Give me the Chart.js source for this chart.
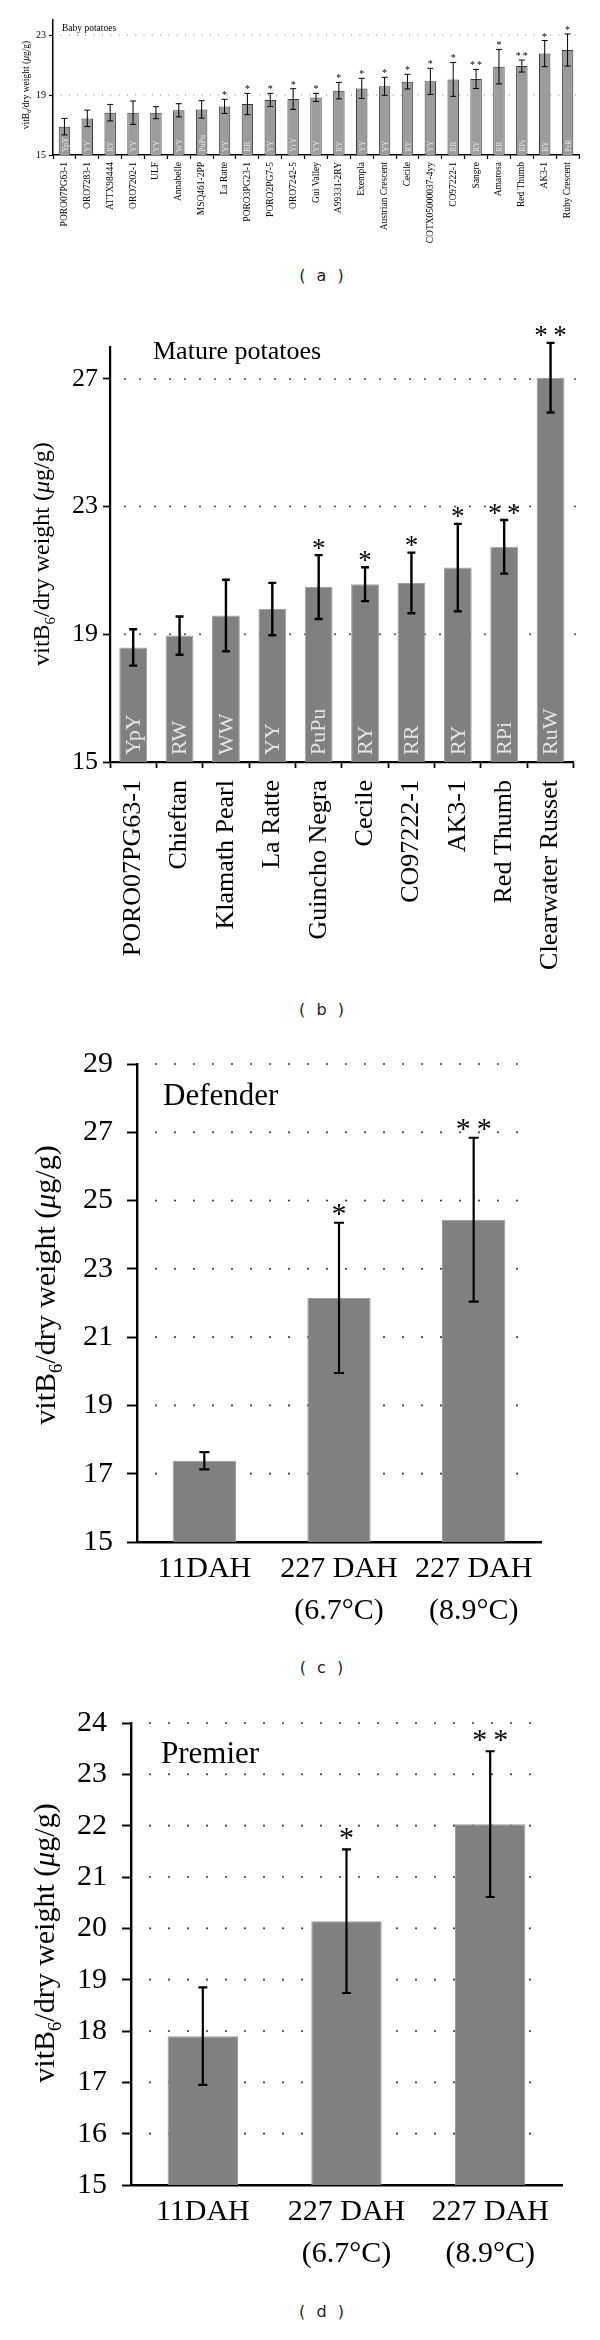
<!DOCTYPE html>
<html>
<head>
<meta charset="utf-8">
<script src="https://cdn.jsdelivr.net/npm/chart.js@4.4.0/dist/chart.umd.min.js"></script>
<style>
  body { margin: 0; background: #fff; width: 600px; height: 2340px; position: relative; overflow: hidden; }
  .panel { position: absolute; left: 0; width: 600px; }
  .tag { position: absolute; left: 23px; width: 600px; text-align: center; font: 16px "DejaVu Sans", sans-serif; color: #222; letter-spacing: 3px; }
</style>
</head>
<body>
<div class="panel" style="top:0px;height:265px"><canvas id="chartA" width="600" height="265"></canvas></div>
<div class="tag" style="top:266px">( a )</div>
<div class="panel" style="top:270px;height:730px"><canvas id="chartB" width="600" height="730"></canvas></div>
<div class="tag" style="top:1000px">( b )</div>
<div class="panel" style="top:1020px;height:620px"><canvas id="chartC" width="600" height="620"></canvas></div>
<div class="tag" style="top:1658px">( c )</div>
<div class="panel" style="top:1680px;height:615px"><canvas id="chartD" width="600" height="615"></canvas></div>
<div class="tag" style="top:2302px">( d )</div>

<script>
// (a) baby potatoes
const babyNames = ['PORO07PG63-1', 'ORO7283-1', 'ATTX98444', 'ORO7202-1', 'ULF', 'Annabelle', 'MSQ461-2PP',
  'La Ratte', 'PORO3PG23-1', 'PORO2PG7-5', 'ORO7242-5', 'Gui Valley', 'A99331-2RY', 'Exempla',
  'Austrian Crescent', 'Cecile', 'COTX05000037-4yy', 'CO97222-1', 'Sangre', 'Amarosa', 'Red Thumb',
  'AK3-1', 'Ruby Crescent'];
const babyValues = [16.89, 17.44, 17.82, 17.82, 17.82, 17.98, 18.04, 18.24, 18.4, 18.67, 18.73, 18.84,
  19.29, 19.44, 19.58, 19.89, 19.91, 20.04, 20.07, 20.89, 20.93, 21.76, 22.0];
const babyErrors = [0.55, 0.55, 0.55, 0.78, 0.4, 0.44, 0.58, 0.47, 0.71, 0.44, 0.69, 0.27, 0.55, 0.67,
  0.6, 0.49, 0.87, 1.13, 0.64, 1.15, 0.4, 0.87, 1.07];
const babyCodes = ['YpY', 'YY', 'RY', 'YY', 'YY', 'WY', 'PuPu', 'YY', 'RR', 'YY', 'YrY', 'YY', 'RY', 'YY',
  'YY', 'RY', 'YY', 'RR', 'RY', 'RR', 'RPi', 'RY', 'PrR'];
const babyStars = ['', '', '', '', '', '', '', '*', '*', '*', '*', '*', '*', '*', '*', '*', '*', '*', '**',
  '*', '**', '*', '*'];
const babyTicks = [15, 19, 23];

// (b) mature potatoes
const matureNames = ['PORO07PG63-1', 'Chieftan', 'Klamath Pearl', 'La Ratte', 'Guincho Negra', 'Cecile',
  'CO97222-1', 'AK3-1', 'Red Thumb', 'Clearwater Russet'];
const matureValues = [18.59, 18.96, 19.59, 19.79, 20.48, 20.57, 20.61, 21.09, 21.74, 27.04];
const matureErrors = [0.57, 0.6, 1.12, 0.82, 1.0, 0.53, 0.95, 1.37, 0.84, 1.09];
const matureCodes = ['YpY', 'RW', 'WW', 'YY', 'PuPu', 'RY', 'RR', 'RY', 'RPi', 'RuW'];
const matureStars = ['', '', '', '', '*', '*', '*', '*', '**', '**'];
const matureTicks = [15, 19, 23, 27];

// (c) Defender, (d) Premier
const storageLabels = ['11DAH', ['227 DAH', '(6.7°C)'], ['227 DAH', '(8.9°C)']];
const defenderValues = [17.38, 22.15, 24.44];
const defenderErrors = [0.25, 2.2, 2.4];
const defenderStars = ['', '*', '**'];
const defenderTicks = [15, 17, 19, 21, 23, 25, 27, 29];

const premierValues = [17.9, 20.14, 22.03];
const premierErrors = [0.95, 1.4, 1.42];
const premierStars = ['', '*', '**'];
const premierTicks = [15, 16, 17, 18, 19, 20, 21, 22, 23, 24];

const SERIF = '"Liberation Serif", "DejaVu Serif", serif';

function drawYTitle(ctx, cx, cy, size) {
  const parts = [
    ['vitB', size, 0, ''],
    ['6', size * 0.62, size * 0.24, ''],
    ['/dry weight (', size, 0, ''],
    ['\u03bc', size, 0, 'italic '],
    ['g/g)', size, 0, '']
  ];
  ctx.save();
  ctx.translate(cx, cy);
  ctx.rotate(-Math.PI / 2);
  ctx.fillStyle = '#000';
  ctx.textBaseline = 'alphabetic';
  ctx.textAlign = 'left';
  let total = 0;
  parts.forEach(p => {
    ctx.font = p[3] + p[1] + 'px ' + SERIF;
    total += ctx.measureText(p[0]).width;
  });
  let px = -total / 2;
  parts.forEach(p => {
    ctx.font = p[3] + p[1] + 'px ' + SERIF;
    ctx.fillText(p[0], px, size * 0.33 + p[2]);
    px += ctx.measureText(p[0]).width;
  });
  ctx.restore();
}

const extras = {
  id: 'extras',
  beforeDatasetsDraw(chart, args, o) {
    const { ctx, chartArea: a, scales: { y } } = chart;
    ctx.save();
    ctx.strokeStyle = o.dotColor;
    ctx.lineWidth = o.dotSize;
    ctx.lineCap = 'round';
    ctx.setLineDash([0, o.dotGap]);
    o.grid.forEach(v => {
      const py = y.getPixelForValue(v);
      ctx.beginPath();
      ctx.moveTo(a.left + o.dotStart, py);
      ctx.lineTo(o.dotEnd, py);
      ctx.stroke();
    });
    ctx.restore();
  },
  afterDatasetsDraw(chart, args, o) {
    const { ctx, chartArea: a, scales: { x, y } } = chart;
    const vals = chart.data.datasets[0].data;
    ctx.save();
    vals.forEach((v, i) => {
      const px = x.getPixelForValue(i);
      if (o.codes) {
        ctx.save();
        ctx.translate(px, a.bottom - o.codePad);
        ctx.rotate(-Math.PI / 2);
        ctx.font = o.codeSize + 'px ' + SERIF;
        ctx.fillStyle = '#e4e4e4';
        ctx.textAlign = 'left';
        ctx.textBaseline = 'middle';
        ctx.fillText(o.codes[i], 0, 1);
        ctx.restore();
      }
      const hi = y.getPixelForValue(v + o.errors[i]);
      const lo = y.getPixelForValue(v - o.errors[i]);
      ctx.strokeStyle = '#000';
      ctx.lineWidth = o.errWidth;
      ctx.beginPath();
      ctx.moveTo(px, hi); ctx.lineTo(px, lo);
      ctx.moveTo(px - o.cap / 2, hi); ctx.lineTo(px + o.cap / 2, hi);
      ctx.moveTo(px - o.cap / 2, lo); ctx.lineTo(px + o.cap / 2, lo);
      ctx.stroke();
      if (o.stars[i]) {
        // two stars are set a little apart, as in the figure
        const s = o.stars[i].split('').join('\u2009');
        ctx.fillStyle = '#000';
        ctx.font = o.starSize + 'px ' + SERIF;
        ctx.textAlign = 'center';
        ctx.textBaseline = 'alphabetic';
        ctx.fillText(s, px, hi - o.starGap + o.starSize * 0.5);
      }
    });
    ctx.restore();
  },
  afterDraw(chart, args, o) {
    const { ctx } = chart;
    drawYTitle(ctx, o.titleX, o.titleY, o.titleSize);
    ctx.save();
    ctx.fillStyle = '#000';
    ctx.font = o.nameSize + 'px ' + SERIF;
    ctx.textAlign = 'left';
    ctx.textBaseline = 'middle';
    ctx.fillText(o.name, o.nameX, o.nameY);
    ctx.restore();
  }
};

function makePanel(id, cfg) {
  const canvas = document.getElementById(id);
  const H = canvas.height;
  return new Chart(canvas, {
    type: 'bar',
    data: {
      labels: cfg.labels,
      datasets: [{
        data: cfg.values,
        backgroundColor: cfg.barColor,
        borderColor: cfg.barBorder,
        borderWidth: 1,
        borderSkipped: false,
        barPercentage: cfg.barPct,
        categoryPercentage: 1
      }]
    },
    options: {
      responsive: false,
      animation: false,
      events: [],
      layout: { autoPadding: false, padding: { top: cfg.top, right: cfg.right, left: 0, bottom: 0 } },
      plugins: {
        legend: { display: false },
        tooltip: { enabled: false },
        extras: cfg.extras
      },
      scales: {
        x: {
          grid: { display: cfg.xTicks, drawOnChartArea: false, drawTicks: true, tickLength: cfg.xTickLen,
            tickColor: '#000', tickWidth: cfg.axisWidth * 0.8, offset: true },
          border: { color: '#000', width: cfg.axisWidth },
          ticks: {
            autoSkip: false, color: '#000', padding: cfg.xPad,
            maxRotation: cfg.rot, minRotation: cfg.rot,
            font: { family: SERIF, size: cfg.xFont, lineHeight: 1.4 }
          },
          afterFit: s => { s.height = H - cfg.bottom; }
        },
        y: {
          min: cfg.min, max: cfg.max,
          afterBuildTicks: s => { s.ticks = cfg.ticks.map(v => ({ value: v })); },
          grid: { drawOnChartArea: false, drawTicks: true, tickLength: cfg.yTickLen,
            tickColor: '#000', tickWidth: cfg.axisWidth * 0.8 },
          border: { color: '#000', width: cfg.axisWidth },
          ticks: { color: '#000', padding: cfg.yPad, font: { family: SERIF, size: cfg.yFont } },
          afterFit: s => { s.width = cfg.left; }
        }
      }
    },
    plugins: [extras]
  });
}

makePanel('chartA', {
  labels: babyNames, values: babyValues, ticks: babyTicks, min: 15, max: 24,
  top: 20, right: 21, left: 53, bottom: 155,
  barColor: '#9c9c9c', barBorder: '#3a3a3a', barPct: 0.5,
  axisWidth: 1.5, xTicks: true, xTickLen: 4, yTickLen: 4, xPad: 3, yPad: 3,
  rot: 90, xFont: 9.5, yFont: 10,
  extras: {
    grid: [19, 23], dotColor: '#666', dotSize: 1.1, dotGap: 8.3, dotStart: 8, dotEnd: 576,
    errors: babyErrors, stars: babyStars, codes: babyCodes, codeSize: 8, codePad: 3,
    errWidth: 1, cap: 6, starSize: 10, starGap: 6,
    titleX: 26, titleY: 85, titleSize: 9.5,
    name: 'Baby potatoes', nameX: 62, nameY: 28, nameSize: 9.5
  }
});

makePanel('chartB', {
  labels: matureNames, values: matureValues, ticks: matureTicks, min: 15, max: 28,
  top: 77, right: 21, left: 110, bottom: 492,
  barColor: '#808080', barBorder: '#a2a2a2', barPct: 0.6,
  axisWidth: 2.2, xTicks: true, xTickLen: 6, yTickLen: 7, xPad: 12, yPad: 5,
  rot: 90, xFont: 26, yFont: 26,
  extras: {
    grid: [19, 23, 27], dotColor: '#444', dotSize: 2, dotGap: 15, dotStart: 15, dotEnd: 579,
    errors: matureErrors, stars: matureStars, codes: matureCodes, codeSize: 22, codePad: 7,
    errWidth: 2.4, cap: 8, starSize: 27, starGap: 12,
    titleX: 41, titleY: 284, titleSize: 24,
    name: 'Mature potatoes', nameX: 153, nameY: 82, nameSize: 26
  }
});

makePanel('chartC', {
  labels: storageLabels, values: defenderValues, ticks: defenderTicks, min: 15, max: 29,
  top: 44, right: 59, left: 137, bottom: 522,
  barColor: '#808080', barBorder: '#9a9a9a', barPct: 0.47,
  axisWidth: 2.4, xTicks: false, xTickLen: 0, yTickLen: 10, xPad: 6, yPad: 14,
  rot: 0, xFont: 30, yFont: 30,
  extras: {
    grid: [17, 19, 21, 23, 25, 27, 29], dotColor: '#444', dotSize: 2.2, dotGap: 19, dotStart: 19, dotEnd: 536,
    errors: defenderErrors, stars: defenderStars, codes: null,
    errWidth: 2.2, cap: 10, starSize: 30, starGap: 15,
    titleX: 45, titleY: 265, titleSize: 30,
    name: 'Defender', nameX: 163, nameY: 77, nameSize: 31
  }
});

makePanel('chartD', {
  labels: storageLabels, values: premierValues, ticks: premierTicks, min: 15, max: 24,
  top: 43, right: 38, left: 131, bottom: 505,
  barColor: '#808080', barBorder: '#9a9a9a', barPct: 0.49,
  axisWidth: 2.4, xTicks: false, xTickLen: 0, yTickLen: 9, xPad: 6, yPad: 15,
  rot: 0, xFont: 30, yFont: 30,
  extras: {
    grid: [16, 17, 18, 19, 20, 21, 22, 23, 24], dotColor: '#444', dotSize: 2.2, dotGap: 19, dotStart: 19, dotEnd: 549,
    errors: premierErrors, stars: premierStars, codes: null,
    errWidth: 2.2, cap: 9, starSize: 30, starGap: 17,
    titleX: 44, titleY: 263, titleSize: 30,
    name: 'Premier', nameX: 161, nameY: 75, nameSize: 31
  }
});
</script>
</body>
</html>
